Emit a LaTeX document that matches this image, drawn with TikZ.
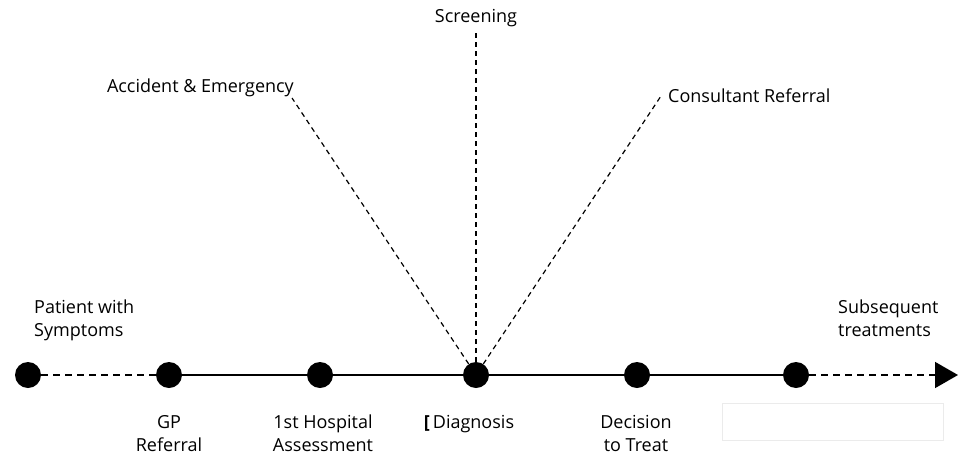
\documentclass[tikz,border=0pt]{standalone}
\usepackage{fontspec}
\setmainfont{Open Sans}
\usetikzlibrary{arrows.meta}
\begin{document}
\begin{tikzpicture}[x=1pt, y=-1pt, >={Triangle[length=23pt,width=26pt]},
                dot/.style={circle, fill=black, minimum size=26pt, inner sep=0pt},
                lbl/.style={align=center, font=\fontsize{18}{23}\selectfont, inner sep=0pt},
                route/.style={dashed, line width=1.2pt, dash pattern=on 5pt off 4pt}
            ]
            \useasboundingbox (0,0) rectangle (963,458);

            % Pathway dots
            \node[dot] (pat) at (28,375) {};
            \node[dot] (gp) at (169,375) {};
            \node[dot] (hosp) at (320,375) {};
            \node[dot] (diag) at (476,375) {};
            \node[dot] (dtt) at (637,375) {};
            \node[dot] (sub) at (796,375) {};
            \coordinate (end) at (958,375);

            % Main line
            \draw[line width=1.6pt, dash pattern=on 7pt off 5pt] (pat) -- (gp);
            \draw[line width=2pt] (gp) -- (hosp) -- (diag) -- (dtt) -- (sub);
            \draw[line width=1.6pt, dash pattern=on 7pt off 5pt, ->] (sub) -- (end);

            % Labels
            \node[lbl, align=left, anchor=north west] (patl) at (34,300) {Patient with\\Symptoms};
            \node[lbl, align=left, anchor=north west] (subl) at (838,300) {Subsequent\\treatments};
            \node[lbl, anchor=north] (gpl) at (169,415) {GP\\Referral};
            \node[lbl, anchor=north] (hospl) at (323,415) {1st Hospital\\Assessment};
            \node[lbl, anchor=north] (diagl) at (469,415) {\textbf{[}\,Diagnosis};
            \node[lbl, anchor=north] (dttl) at (636,415) {Decision\\to Treat};
            \node[draw=black!8, line width=0.8pt, minimum width=221pt, minimum height=37pt, anchor=north west] (blank) at (722,403) {};

            % Routes into diagnosis
            \node[lbl, anchor=south] (scr) at (476,27) {Screening};
            \node[lbl, anchor=south east] (ae) at (294,97) {Accident \& Emergency};
            \node[lbl, anchor=south west] (cr) at (668,103) {Consultant Referral};
            \coordinate (scrend) at (476,30);
            \coordinate (aeend) at (292,98);
            \coordinate (crend) at (661,96);
            \draw[route] (diag) -- (scrend);
            \draw[route] (diag) -- (aeend);
            \draw[route] (diag) -- (crend);

        \end{tikzpicture}
\end{document}
